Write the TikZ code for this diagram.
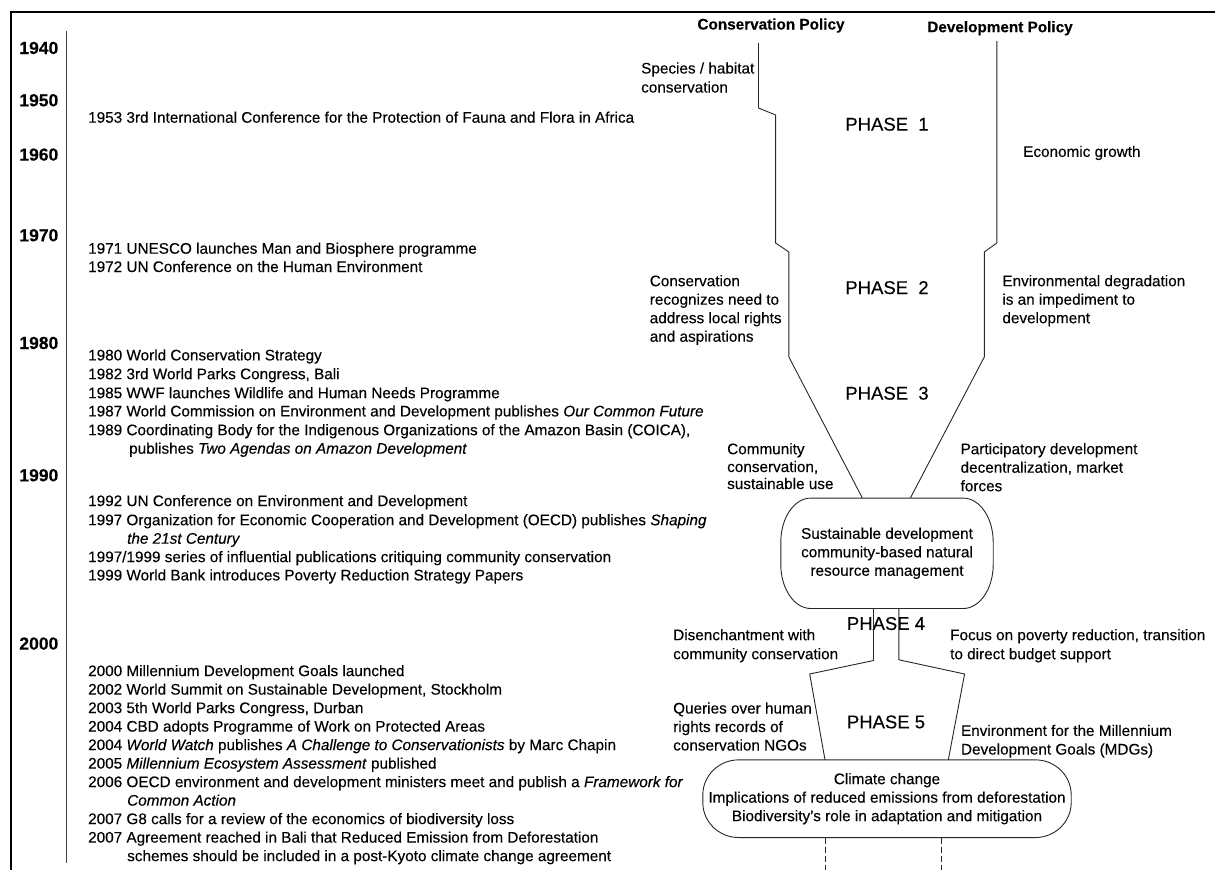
\documentclass[tikz,border=0pt]{standalone}
\usepackage{fontspec}
\setmainfont{Liberation Sans}[FakeBold=0.2]
\begin{document}
\begin{tikzpicture}[x=1pt,y=-1pt,
  ev/.style={anchor=base west,inner sep=0pt,font=\fontsize{15.3}{18.5}\selectfont},
  ann/.style={anchor=base west,inner sep=0pt,font=\fontsize{15.3}{18.5}\selectfont},
  yr/.style={anchor=base east,inner sep=0pt,font=\fontsize{17.5}{20}\selectfont\bfseries},
  hd/.style={anchor=base,inner sep=0pt,font=\fontsize{15.3}{18}\selectfont\bfseries},
  ph/.style={anchor=base,inner sep=0pt,font=\fontsize{18.5}{20}\selectfont},
  pol/.style={line width=0.9pt,draw=black!85},
  bxt/.style={align=center,inner sep=0pt,font=\fontsize{15.3}{18.5}\selectfont}
]
\useasboundingbox (0,0) rectangle (1215,870);
% frame and axis
\draw[line width=2pt] (11,870) -- (11,12.3) -- (1215,12.3);
\draw[line width=0.8pt,black!75] (66,31) -- (66,863);
% years
\node[yr] (y1940) at (58.5,54) {1940};
\node[yr] (y1950) at (58.5,106.3) {1950};
\node[yr] (y1960) at (58.5,160.6) {1960};
\node[yr] (y1970) at (58.5,241.3) {1970};
\node[yr] (y1980) at (58.5,349) {1980};
\node[yr] (y1990) at (58.5,481.3) {1990};
\node[yr] (y2000) at (58.5,649.6) {2000};
% events
\node[ev] (e1953) at (88,122.7) {1953 3rd International Conference for the Protection of Fauna and Flora in Africa};
\node[ev] (e1971) at (88,253.7) {1971 UNESCO launches Man and Biosphere programme};
\node[ev] (e1972) at (88,272) {1972 UN Conference on the Human Environment};
\node[ev] (e1980) at (88,360.4) {1980 World Conservation Strategy};
\node[ev] (e1982) at (88,379.2) {1982 3rd World Parks Congress, Bali};
\node[ev] (e1985) at (88,398.2) {1985 WWF launches Wildlife and Human Needs Programme};
\node[ev] (e1987) at (88,416.4) {1987 World Commission on Environment and Development publishes \textit{Our Common Future}};
\node[ev] (e1989) at (88,435.2) {1989 Coordinating Body for the Indigenous Organizations of the Amazon Basin (COICA),};
\node[ev] (e1989b) at (129,453.7) {publishes \textit{Two Agendas on Amazon Development}};
\node[ev] (e1992) at (88,506.1) {1992 UN Conference on Environment and Development};
\node[ev] (e1997) at (88,525.2) {1997 Organization for Economic Cooperation and Development (OECD) publishes \textit{Shaping}};
\node[ev] (e1997b) at (127,543.7) {\textit{the 21st Century}};
\node[ev] (e1997c) at (88,562.1) {1997/1999 series of influential publications critiquing community conservation};
\node[ev] (e1999) at (88,580.4) {1999 World Bank introduces Poverty Reduction Strategy Papers};
\node[ev] (e2000) at (88,676.1) {2000 Millennium Development Goals launched};
\node[ev] (e2002) at (88,694.6) {2002 World Summit on Sustainable Development, Stockholm};
\node[ev] (e2003) at (88,713.1) {2003 5th World Parks Congress, Durban};
\node[ev] (e2004) at (88,731.6) {2004 CBD adopts Programme of Work on Protected Areas};
\node[ev] (e2004b) at (88,750.1) {2004 \textit{World Watch} publishes \textit{A Challenge to Conservationists} by Marc Chapin};
\node[ev] (e2005) at (88,768.6) {2005 \textit{Millennium Ecosystem Assessment} published};
\node[ev] (e2006) at (88,787.1) {2006 OECD environment and development ministers meet and publish a \textit{Framework for}};
\node[ev] (e2006b) at (127,805.6) {\textit{Common Action}};
\node[ev] (e2007) at (88,824.1) {2007 G8 calls for a review of the economics of biodiversity loss};
\node[ev] (e2007b) at (88,842.6) {2007 Agreement reached in Bali that Reduced Emission from Deforestation};
\node[ev] (e2007c) at (127,861.1) {schemes should be included in a post-Kyoto climate change agreement};
% headings
\node[hd] (hcons) at (771,29.5) {Conservation Policy};
\node[hd] (hdev) at (1000,32.2) {Development Policy};
% phases
\node[ph] (p1) at (887,130.6) {PHASE\ \ 1};
\node[ph] (p2) at (887,294) {PHASE\ \ 2};
\node[ph] (p3) at (887,399.6) {PHASE\ \ 3};
\node[ph] (p4) at (886,629.9) {PHASE 4};
\node[ph] (p5) at (886,728.3) {PHASE 5};
% boxes
\node[bxt,minimum width=212pt,minimum height=110pt] (box1) at (887,553.3)
  {Sustainable development\\community-based natural\\resource management};
\draw[pol] ([xshift=30pt]box1.north west) -- ([xshift=-30pt]box1.north east)
  arc[start angle=90,end angle=0,x radius=30pt,y radius=44pt] -- ([yshift=44pt]box1.south east)
  arc[start angle=0,end angle=-90,x radius=30pt,y radius=44pt] -- ([xshift=30pt]box1.south west)
  arc[start angle=-90,end angle=-180,x radius=30pt,y radius=44pt] -- ([yshift=-44pt]box1.north west)
  arc[start angle=180,end angle=90,x radius=30pt,y radius=44pt] -- cycle;
\node[bxt,minimum width=368pt,minimum height=77.3pt] (box2) at (887,798.7)
  {Climate change\\Implications of reduced emissions from deforestation\\Biodiversity's role in adaptation and mitigation};
\draw[pol] ([xshift=36pt]box2.north west) -- ([xshift=-36pt]box2.north east)
  arc[start angle=90,end angle=0,x radius=36pt,y radius=35pt] -- ([yshift=35pt]box2.south east)
  arc[start angle=0,end angle=-90,x radius=36pt,y radius=35pt] -- ([xshift=36pt]box2.south west)
  arc[start angle=-90,end angle=-180,x radius=36pt,y radius=35pt] -- ([yshift=-35pt]box2.north west)
  arc[start angle=180,end angle=90,x radius=36pt,y radius=35pt] -- cycle;
% annotations
\node[ann] (a1a) at (641,73.5) {Species / habitat};
\node[ann] (a1b) at (641,92.5) {conservation};
\node[ann] (a2) at (1023,156.9) {Economic growth};
\node[ann] (a3a) at (649.6,286.2) {Conservation};
\node[ann] (a3b) at (649.6,304.7) {recognizes need to};
\node[ann] (a3c) at (649.6,323.2) {address local rights};
\node[ann] (a3d) at (649.6,341.7) {and aspirations};
\node[ann] (a4a) at (1002.2,286.2) {Environmental degradation};
\node[ann] (a4b) at (1002.2,304.7) {is an impediment to};
\node[ann] (a4c) at (1002.2,323.2) {development};
\node[ann] (a5a) at (727,454.2) {Community};
\node[ann] (a5b) at (727,472) {conservation,};
\node[ann] (a5c) at (727,489) {sustainable use};
\node[ann] (a6a) at (960.4,454.2) {Participatory development};
\node[ann] (a6b) at (960.4,472.7) {decentralization, market};
\node[ann] (a6c) at (960.4,491.2) {forces};
\node[ann] (a7a) at (673,640.2) {Disenchantment with};
\node[ann] (a7b) at (673,659.2) {community conservation};
\node[ann] (a8a) at (950,640.2) {Focus on poverty reduction, transition};
\node[ann] (a8b) at (950,659.2) {to direct budget support};
\node[ann] (a9a) at (673,713.5) {Queries over human};
\node[ann] (a9b) at (673,732) {rights records of};
\node[ann] (a9c) at (673,750.5) {conservation NGOs};
\node[ann] (a10a) at (960.8,735.9) {Environment for the Millennium};
\node[ann] (a10b) at (960.8,754.5) {Development Goals (MDGs)};
% policy lines
\coordinate (cstart) at (758.5,43);
\coordinate (dstart) at (996.8,41);
\draw[pol] (cstart) -- (758.5,108) -- (775.6,115) -- (775.6,243) -- (788.9,252) -- (788.9,357)
  -- ([xshift=-24.6pt]box1.north);
\draw[pol] (dstart) -- (996.8,243) -- (984.3,252) -- (984.3,357)
  -- ([xshift=23.3pt]box1.north);
\draw[pol] ([xshift=-13.5pt]box1.south) -- ++(0,52) -- (809.7,674) -- ([xshift=-62pt]box2.north);
\draw[pol] ([xshift=11.9pt]box1.south) -- ++(0,51.3) -- (964.6,674) -- ([xshift=61.3pt]box2.north);
\coordinate (dl) at (825,870);
\coordinate (dr) at (941.8,870);
\draw[pol,dash pattern=on 6pt off 3pt] ([xshift=-62pt]box2.south) -- (dl);
\draw[pol,dash pattern=on 6pt off 3pt] ([xshift=54.8pt]box2.south) -- (dr);
\end{tikzpicture}
\end{document}
